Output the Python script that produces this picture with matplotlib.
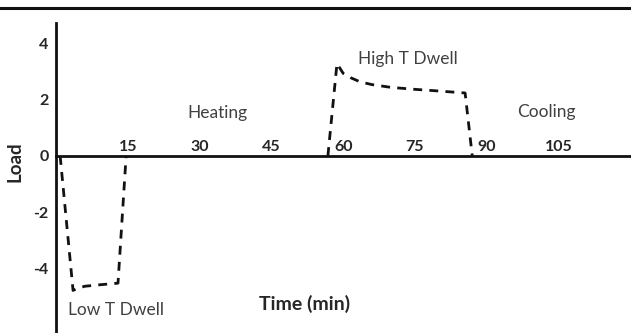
import matplotlib.pyplot as plt
from matplotlib.lines import Line2D

plt.rcParams['font.family'] = ['Lato', 'DejaVu Sans']

# load profile (time in min, load)
time_low = [0.8, 3.5, 4.5, 6.0, 9.0, 12.9, 14.6]
load_low = [0.0, -4.8, -4.72, -4.65, -4.6, -4.54, 0.0]

time_high = [56.8, 58.7, 60.0, 61.5, 63.5, 66.0, 70.0, 75.0, 80.0, 85.5, 87.0]
load_high = [0.0, 3.3, 2.95, 2.8, 2.65, 2.55, 2.45, 2.38, 2.32, 2.25, 0.0]

xticks = [15, 30, 45, 60, 75, 90, 105]
yticks = [4, 2, 0, -2, -4]

phases = ['Heating', 'High T Dwell', 'Cooling', 'Low T Dwell']
phase_x = [33.8, 73.5, 102.6, 12.5]
phase_y = [1.55, 3.45, 1.58, -5.5]

fig = plt.figure(figsize=(6.31, 3.33), dpi=100)
ax = fig.add_axes([0, 0, 1, 1])
ax.set_xlim(-11.78, 120.2)
ax.set_ylim(-6.32, 5.57)

dash = dict(color='#111111', lw=2, linestyle=(0, (3.2, 2.6)))
ax.plot(time_low, load_low, **dash)
ax.plot(time_high, load_high, **dash)

# axes crossing at origin
ax.spines['left'].set_position(('data', 0))
ax.spines['left'].set_bounds(-6.32, 4.75)
ax.spines['top'].set_position(('data', 0))
ax.spines['top'].set_bounds(0, 120.2)
ax.spines['bottom'].set_visible(False)
ax.spines['right'].set_visible(False)
for s in ['left', 'top']:
    ax.spines[s].set_linewidth(2)
    ax.spines[s].set_color('#111111')

ax.xaxis.tick_top()
ax.set_xticks(xticks)
ax.set_xticklabels([str(v) for v in xticks], fontsize=11.5, fontweight='bold', color='#262626')
ax.tick_params(axis='x', length=0, pad=1.5)
ax.set_yticks(yticks)
ax.set_yticklabels([str(v) for v in yticks], fontsize=11.5, fontweight='bold', color='#262626')
ax.tick_params(axis='y', length=0, pad=5.5)

for name, px, py in zip(phases, phase_x, phase_y):
    ax.text(px, py, name, fontsize=12.5, color='#404040', ha='center', va='center')

ax.text(51.9, -5.3, 'Time (min)', fontsize=14, fontweight='bold', color='#262626',
        ha='center', va='center')
ax.text(-8.7, -0.2, 'Load', fontsize=13.5, fontweight='bold', color='#262626',
        ha='center', va='center', rotation=90)

# rule across the top of the figure
fig.add_artist(Line2D([0, 1], [1 - 7.5 / 333, 1 - 7.5 / 333], color='#111111', lw=2.2))

fig.savefig('out.png', dpi=100)
